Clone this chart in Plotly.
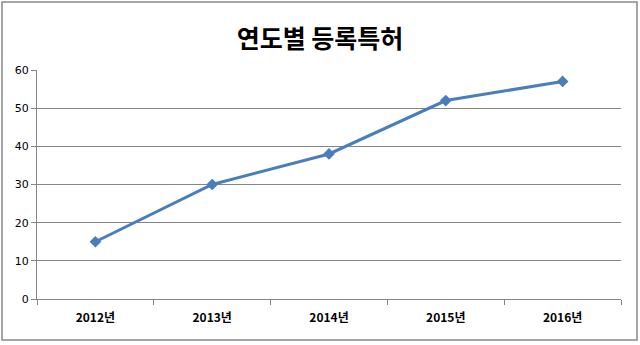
import plotly.graph_objects as go

categories = ["2012년", "2013년", "2014년", "2015년", "2016년"]
values = [15, 30, 38, 52, 57]
y_ticks = [0, 10, 20, 30, 40, 50, 60]
title = "연도별 등록특허"

L, R, T, B = 37, 19, 70, 46
W, H = 640, 345
pw, ph = W - L - R, H - T - B

fig = go.Figure()
fig.add_trace(go.Scatter(
    x=categories, y=values, mode="lines+markers",
    line=dict(color="#4A7EBB", width=3),
    marker=dict(symbol="diamond", size=9, color="#4A7EBB"),
    showlegend=False,
))

fig.update_layout(
    width=W, height=H,
    margin=dict(l=L, r=R, t=T, b=B),
    paper_bgcolor="white", plot_bgcolor="white",
    title=dict(text=f"<b>{title}</b>", x=0.5, xanchor="center", y=1 - 39 / H, yanchor="middle",
               font=dict(family="Noto Sans CJK KR", size=25, color="black")),
    xaxis=dict(
        type="category", categoryorder="array", categoryarray=categories,
        tickmode="array", tickvals=categories,
        ticktext=[f"<b>{c}</b>" for c in categories],
        range=[-0.5, len(categories) - 0.5],
        showgrid=False, showline=True, linecolor="#868686", linewidth=1,
        ticks="outside", ticklen=5, tickcolor="#868686", tickson="boundaries",
        ticklabelstandoff=8,
        tickfont=dict(family="Noto Sans CJK KR", size=12, color="black"),
        zeroline=False, fixedrange=True,
    ),
    yaxis=dict(
        range=[0, 60], tickvals=y_ticks, showgrid=True, gridcolor="#868686", gridwidth=1,
        showline=True, linecolor="#868686", linewidth=1,
        ticks="outside", ticklen=5, tickcolor="#868686",
        tickfont=dict(family="DejaVu Sans", size=11, color="black"),
        zeroline=False, fixedrange=True,
    ),
    shapes=[dict(
        type="rect", xref="paper", yref="paper",
        x0=(2 - L) / pw, x1=(637 - L) / pw,
        y0=-(340 - (H - B)) / ph, y1=((H - B) - 2) / ph,
        line=dict(color="#888888", width=1.5), fillcolor="rgba(0,0,0,0)",
    )],
)

fig.write_html("out.html")
